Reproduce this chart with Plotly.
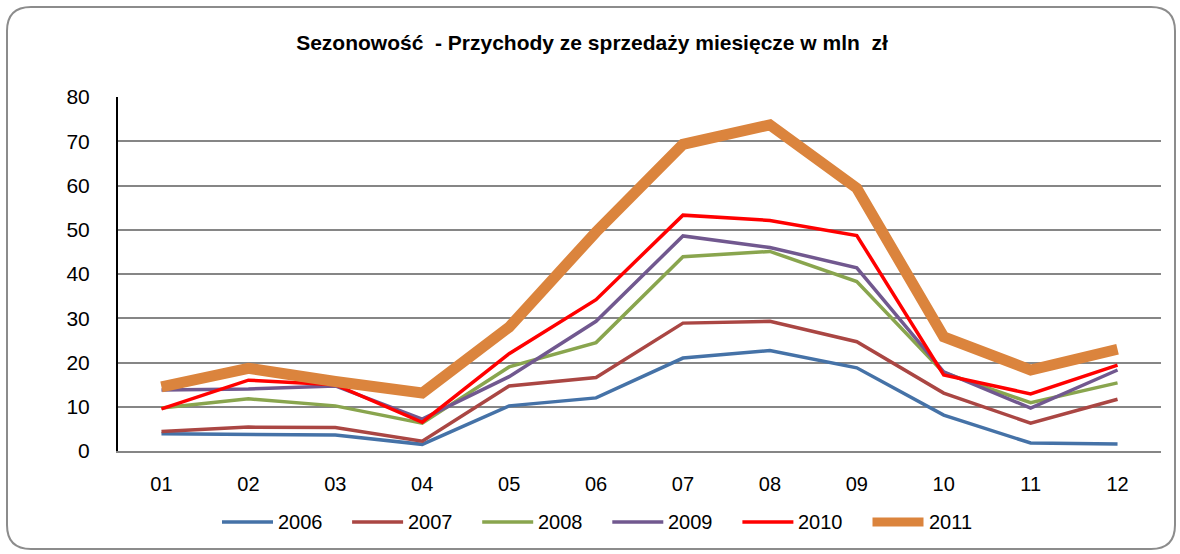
import plotly.graph_objects as go

months = ["01", "02", "03", "04", "05", "06", "07", "08", "09", "10", "11", "12"]
y2006 = [3.9, 3.8, 3.6, 1.5, 10.2, 12.0, 21.0, 22.7, 18.8, 8.1, 1.8, 1.6]
y2007 = [4.4, 5.4, 5.3, 2.2, 14.7, 16.6, 28.9, 29.3, 24.7, 13.1, 6.3, 11.7]
y2008 = [9.7, 11.8, 10.2, 6.3, 19.0, 24.5, 43.9, 45.1, 38.3, 17.7, 10.9, 15.4]
y2009 = [13.8, 14.0, 14.7, 7.2, 16.8, 29.3, 48.6, 46.0, 41.4, 17.9, 9.7, 18.3]
y2010 = [9.5, 16.0, 15.0, 6.5, 22.0, 34.2, 53.3, 52.1, 48.7, 17.2, 12.9, 19.4]
y2011 = [14.5, 18.7, 15.7, 13.1, 28.0, 49.5, 69.3, 73.7, 59.4, 25.8, 18.3, 23.0]

series = [
    ("2006", y2006, "#4572A7", 3.5),
    ("2007", y2007, "#AA4643", 3.5),
    ("2008", y2008, "#89A54E", 3.5),
    ("2009", y2009, "#71588F", 3.5),
    ("2010", y2010, "#FF0000", 3.5),
    ("2011", y2011, "#DB843D", 11),
]

fig = go.Figure()
for name, vals, color, w in series:
    fig.add_trace(go.Scatter(x=months, y=vals, name=name, mode="lines",
                             line=dict(color=color, width=w), showlegend=False))

# plot-area pixel geometry
L, R, T, B = 118, 1161, 97, 451
W, H = 1180, 554
pw, ph = R - L, B - T

def px(x):
    return (x - L) / pw

def py(y):
    return (B - y) / ph

# rounded border
x0, x1, y0, y1, r = 7, 1175, 7, 549, 24
path = (
    f"M {px(x0 + r)},{py(y0)} L {px(x1 - r)},{py(y0)} "
    f"Q {px(x1)},{py(y0)} {px(x1)},{py(y0 + r)} "
    f"L {px(x1)},{py(y1 - r)} Q {px(x1)},{py(y1)} {px(x1 - r)},{py(y1)} "
    f"L {px(x0 + r)},{py(y1)} Q {px(x0)},{py(y1)} {px(x0)},{py(y1 - r)} "
    f"L {px(x0)},{py(y0 + r)} Q {px(x0)},{py(y0)} {px(x0 + r)},{py(y0)} Z"
)
fig.add_shape(type="path", path=path, xref="paper", yref="paper",
              line=dict(color="#8C8C8C", width=2), layer="above")

# legend (drawn manually so the sample lines match the original length)
leg_x0, leg_step, leg_len, leg_y = 222, 130.1, 51, 522
for i, (name, vals, color, w) in enumerate(series):
    lx = leg_x0 + i * leg_step
    fig.add_shape(type="line", xref="paper", yref="paper",
                  x0=px(lx), x1=px(lx + leg_len), y0=py(leg_y), y1=py(leg_y),
                  line=dict(color=color, width=w if w < 5 else 9))
    fig.add_annotation(text=name, xref="paper", yref="paper",
                       x=px(lx + leg_len + 3), y=py(leg_y), xanchor="left", yanchor="middle",
                       showarrow=False, font=dict(size=20, color="black"))

fig.update_layout(
    width=W, height=H,
    margin=dict(l=L, r=W - R, t=T, b=H - B),
    paper_bgcolor="white", plot_bgcolor="white",
    font=dict(family="Liberation Sans, Arial, sans-serif", color="black"),
    title=dict(text="<b>Sezonowość  - Przychody ze sprzedaży miesięcze w mln  zł</b>",
               x=px(592), xanchor="center", xref="paper",
               y=1 - 43 / H, yanchor="middle",
               font=dict(family="Liberation Sans, Arial, sans-serif", size=21)),
    showlegend=False,
    xaxis=dict(type="category", range=[-0.5, 11.5], showgrid=False,
               showline=True, linecolor="#868686", linewidth=1.5,
               ticks="", tickfont=dict(size=20), ticklabelstandoff=14,
               zeroline=False),
    yaxis=dict(range=[0, 80], dtick=10, showgrid=True, gridcolor="#868686", gridwidth=1.5,
               showline=True, linecolor="black", linewidth=2,
               ticks="", tickfont=dict(size=21), ticklabelstandoff=22,
               zeroline=False),
)

fig.write_html("out.html", config={"displayModeBar": False},
               post_script="document.body.style.margin='0';document.body.style.overflow='hidden';")
